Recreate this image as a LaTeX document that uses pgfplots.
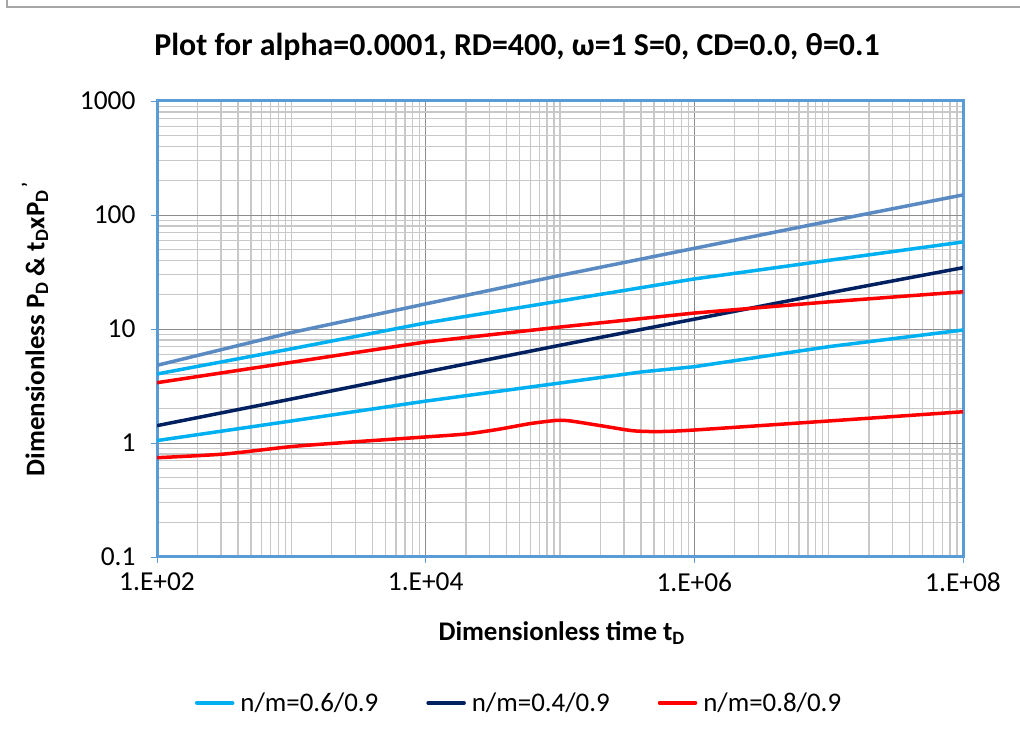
\documentclass[border=0pt]{standalone}
\usepackage{pgfplots}
\pgfplotsset{compat=1.18}
\usepackage{fontspec}
\setmainfont{Carlito}
\definecolor{steel}{HTML}{5A8AC2}
\definecolor{lblue}{HTML}{00B0F0}
\definecolor{navy}{HTML}{002060}
\definecolor{axblue}{HTML}{5B9BD5}
\definecolor{majgrid}{HTML}{8C8C8C}
\definecolor{mingrid}{HTML}{C8C8C8}
\definecolor{frame}{HTML}{A6A6A6}
\begin{document}
\begin{tikzpicture}[x=1bp,y=1bp]
\path[use as bounding box] (0,0) rectangle (1020,738);
\draw[frame,line width=2bp] (6.5,738) -- (6.5,730.5) -- (1020,730.5);
\begin{axis}[
  at={(157bp,181bp)}, anchor=south west,
  width=806bp, height=456bp, scale only axis,
  xmode=log, ymode=log,
  xmin=1e2, xmax=1e8, ymin=0.1, ymax=1000,
  xtick={1e2,1e4,1e6,1e8},
  xticklabels={1.E+02,1.E+04,1.E+06,1.E+08},
  ytick={0.1,1,10,100,1000},
  yticklabels={0.1,1,10,100,1000},
  minor xtick={2e2,3e2,4e2,5e2,6e2,7e2,8e2,9e2,1e3,2e3,3e3,4e3,5e3,6e3,7e3,8e3,9e3,
    2e4,3e4,4e4,5e4,6e4,7e4,8e4,9e4,1e5,2e5,3e5,4e5,5e5,6e5,7e5,8e5,9e5,
    2e6,3e6,4e6,5e6,6e6,7e6,8e6,9e6,1e7,2e7,3e7,4e7,5e7,6e7,7e7,8e7,9e7},
  minor ytick={0.2,0.3,0.4,0.5,0.6,0.7,0.8,0.9,2,3,4,5,6,7,8,9,20,30,40,50,60,70,80,90,200,300,400,500,600,700,800,900},
  grid=both,
  major grid style={majgrid,line width=0.8bp},
  minor grid style={mingrid,line width=1.3bp},
  minor tick length=0pt,
  major tick length=6bp,
  tick align=outside,
  xtick pos=bottom, ytick pos=left,
  tick style={axblue,line width=0.8bp},
  axis line style={axblue,line width=3bp},
  ticklabel style={font=\fontsize{27.5}{31}\selectfont},
  xticklabel style={yshift=-6bp},
  yticklabel style={xshift=-12bp},
  xlabel={\textbf{Dimensionless time t\textsubscript{D}}},
  ylabel={\textbf{Dimensionless P\textsubscript{D} \& t\textsubscript{D}xP\textsubscript{D}\textsuperscript{\,'}}},
  label style={font=\fontsize{27}{31}\selectfont},
  xlabel style={at={(0.5021,0)}, anchor=center, yshift=-76bp},
  ylabel style={at={(-0.1514,0.5)}, anchor=center},
  title={\textbf{Plot for alpha=0.0001, RD=400, ω=1 S=0, CD=0.0, θ=0.1}},
  title style={font=\fontsize{32}{36}\selectfont, at={(0.4466,1)}, anchor=center, yshift=48bp},
  legend columns=3,
  legend style={at={(0.4492,-0.32)}, anchor=center, draw=none, fill=none,
    font=\fontsize{27}{31}\selectfont,
    /tikz/every odd column/.append style={column sep=4bp},
    /tikz/every even column/.append style={column sep=46bp}},
  legend image code/.code={\draw[#1,line cap=round] (0bp,0bp) -- (36bp,0bp);},
  every axis plot/.append style={line width=3.5bp, line join=round},
]
% n/m=0.6/0.9 (light blue, upper)
\addplot[lblue] coordinates {(1e2,4.03) (1e3,6.7) (1e4,11.3) (1e5,17.6) (1e6,27.5) (1e7,40) (1e8,58)};
\addlegendentry{n/m=0.6/0.9}
% n/m=0.4/0.9 (navy)
\addplot[navy] coordinates {(1e2,1.42) (1e3,2.43) (1e4,4.2) (1e5,7.2) (1e6,12.2) (1e7,20.7) (1e8,34.5)};
\addlegendentry{n/m=0.4/0.9}
% n/m=0.8/0.9 (red, upper)
\addplot[red] coordinates {(1e2,3.38) (1e3,5.1) (1e4,7.7) (1e5,10.4) (1e6,13.8) (1e7,17.3) (1e8,21.2)};
\addlegendentry{n/m=0.8/0.9}
% steel blue
\addplot[steel, forget plot] coordinates {(1e2,4.8) (1e3,9.3) (1e4,16.6) (1e5,29.5) (1e6,51) (1e7,88) (1e8,150)};
% light blue lower
\addplot[lblue, forget plot] coordinates {(1e2,1.05) (1e3,1.56) (1e4,2.33) (1e5,3.36) (4.18e5,4.22) (1e6,4.67) (1e7,7.0) (1e8,9.8)};
% red lower
\addplot[red, forget plot, smooth, tension=0.4] coordinates {(1e2,0.743) (316,0.80) (1e3,0.93) (3162,1.03) (1e4,1.13) (2e4,1.2) (3.5e4,1.32) (6e4,1.48) (9.5e4,1.58) (1.2e5,1.56) (2e5,1.42) (3.5e5,1.28) (5.5e5,1.26) (1e6,1.30) (1e7,1.56) (1e8,1.88)};
\end{axis}
\end{tikzpicture}
\end{document}
